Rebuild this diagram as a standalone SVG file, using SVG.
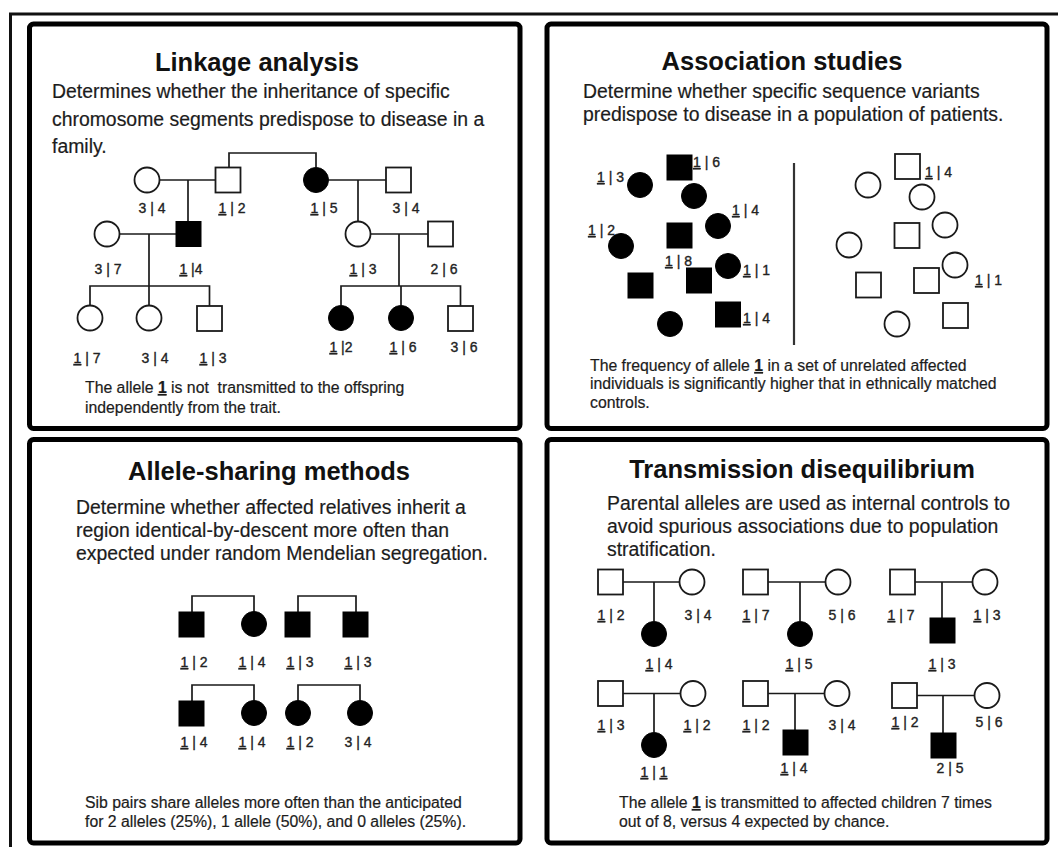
<svg xmlns="http://www.w3.org/2000/svg" xmlns:xlink="http://www.w3.org/1999/xlink" width="1058" height="847" viewBox="0 0 1058 847">
  <style>
    .frame{fill:none;stroke:#111;stroke-width:3}
    .panel{fill:#fff;stroke:#000;stroke-width:5}
    text{font-family:'Liberation Sans',Arial,Helvetica,sans-serif;fill:#111}
    .title{font-size:25.5px;font-weight:bold;text-anchor:middle}
    .desc{font-size:19.4px;fill:#1c1c1c;stroke:#1c1c1c;stroke-width:0.2}
    .note{font-size:15.8px;fill:#1c1c1c;stroke:#1c1c1c;stroke-width:0.2}
    .lbl{font-size:14px;text-anchor:middle;fill:#222;stroke:#222;stroke-width:0.35}
    .lbs{font-size:14px;fill:#222;stroke:#222;stroke-width:0.35}
    .u{text-decoration:underline}
    .b{font-weight:bold}
    .open{fill:#fff;stroke:#1a1a1a;stroke-width:1.8}
    .aff{fill:#000;stroke:#000;stroke-width:1}
    .ln{fill:none;stroke:#1a1a1a;stroke-width:1.7}
    .div{stroke:#333;stroke-width:2.2}
  </style>
  <defs>
    <rect id="sq" width="25" height="25"/>
    <circle id="ci" r="12.5"/>
  </defs>

  <rect width="1058" height="847" fill="#fff"/>
  <!-- outer frame, running off the right and bottom edges -->
  <rect class="frame" x="10.5" y="14" width="1060" height="850"/>

  <!-- ============ Linkage analysis ============ -->
  <g id="linkage">
    <rect class="panel" x="29.5" y="24" width="490.5" height="404.5" rx="4"/>
    <text class="title" x="257" y="71">Linkage analysis</text>
    <text class="desc" x="52" y="98">Determines whether the inheritance of specific</text>
    <text class="desc" x="52" y="126">chromosome segments predispose to disease in a</text>
    <text class="desc" x="52" y="153">family.</text>

    <g id="linkage-connectors">
      <path class="ln" d="M229,167.5 V153 H316 V167"/>
      <path class="ln" d="M159,180 H215.5"/>
      <path class="ln" d="M329,180 H386"/>
      <path class="ln" d="M188,180 V221.5"/>
      <path class="ln" d="M358,180 V222"/>
      <path class="ln" d="M119,234 H176"/>
      <path class="ln" d="M149,234 V286 M90,306 V286 H209.5 V306 M149,286 V306"/>
      <path class="ln" d="M370,234 H428"/>
      <path class="ln" d="M399,234 V286 M341,305 V286 H460.5 V306 M401,286 V305"/>
    </g>

    <g id="lk-i1"><use xlink:href="#ci" class="open" x="147" y="180"/><text class="lbl" x="152" y="213">3 | 4</text></g>
    <g id="lk-i2"><use xlink:href="#sq" class="open" x="215.5" y="167.5"/><text class="lbl" x="232" y="213"><tspan class="u">1</tspan> | 2</text></g>
    <g id="lk-i3"><use xlink:href="#ci" class="aff" x="316" y="180"/><text class="lbl" x="324" y="213"><tspan class="u">1</tspan> | 5</text></g>
    <g id="lk-i4"><use xlink:href="#sq" class="open" x="386" y="167.5"/><text class="lbl" x="406" y="213">3 | 4</text></g>

    <g id="lk-ii1"><use xlink:href="#ci" class="open" x="107" y="234"/><text class="lbl" x="108" y="274">3 | 7</text></g>
    <g id="lk-ii2"><use xlink:href="#sq" class="aff" x="176" y="221.5"/><text class="lbl" x="191" y="274"><tspan class="u">1</tspan> |4</text></g>
    <g id="lk-ii3"><use xlink:href="#ci" class="open" x="358" y="234"/><text class="lbl" x="363" y="274"><tspan class="u">1</tspan> | 3</text></g>
    <g id="lk-ii4"><use xlink:href="#sq" class="open" x="428" y="221.5"/><text class="lbl" x="444" y="274">2 | 6</text></g>

    <g id="lk-iii1"><use xlink:href="#ci" class="open" x="90" y="318"/><text class="lbl" x="87" y="363"><tspan class="u">1</tspan> | 7</text></g>
    <g id="lk-iii2"><use xlink:href="#ci" class="open" x="149" y="318"/><text class="lbl" x="155" y="363">3 | 4</text></g>
    <g id="lk-iii3"><use xlink:href="#sq" class="open" x="197" y="306"/><text class="lbl" x="213" y="363"><tspan class="u">1</tspan> | 3</text></g>
    <g id="lk-iii4"><use xlink:href="#ci" class="aff" x="341" y="318"/><text class="lbl" x="341" y="352"><tspan class="u">1</tspan> |2</text></g>
    <g id="lk-iii5"><use xlink:href="#ci" class="aff" x="401" y="318"/><text class="lbl" x="403" y="352"><tspan class="u">1</tspan> | 6</text></g>
    <g id="lk-iii6"><use xlink:href="#sq" class="open" x="448" y="306"/><text class="lbl" x="464" y="352">3 | 6</text></g>

    <text class="note" x="85" y="393">The allele <tspan class="u b">1</tspan> is not&#160; transmitted to the offspring</text>
    <text class="note" x="85" y="413">independently from the trait.</text>
  </g>

  <!-- ============ Association studies ============ -->
  <g id="association">
    <rect class="panel" x="547" y="24" width="500" height="404.5" rx="4"/>
    <text class="title" x="782" y="70">Association studies</text>
    <text class="desc" x="583" y="98">Determine whether specific sequence variants</text>
    <text class="desc" x="583" y="121">predispose to disease in a population of patients.</text>

    <line class="div" x1="794" y1="163" x2="794" y2="345"/>

    <g id="cases">
      <g id="case1"><use xlink:href="#ci" class="aff" x="640" y="185"/><text class="lbs" x="597" y="182"><tspan class="u">1</tspan> | 3</text></g>
      <g id="case2"><use xlink:href="#sq" class="aff" x="667" y="155"/><text class="lbs" x="693" y="167"><tspan class="u">1</tspan> | 6</text></g>
      <g id="case3"><use xlink:href="#ci" class="aff" x="694" y="196"/></g>
      <g id="case4"><use xlink:href="#ci" class="aff" x="718" y="226"/><text class="lbs" x="732" y="215"><tspan class="u">1</tspan> | 4</text></g>
      <g id="case5"><use xlink:href="#ci" class="aff" x="621" y="246"/><text class="lbs" x="588" y="235"><tspan class="u">1</tspan> | 2</text></g>
      <g id="case6"><use xlink:href="#sq" class="aff" x="667" y="223"/><text class="lbs" x="665" y="266"><tspan class="u">1</tspan> | 8</text></g>
      <g id="case7"><use xlink:href="#ci" class="aff" x="728" y="266"/><text class="lbs" x="743" y="275"><tspan class="u">1</tspan> | 1</text></g>
      <g id="case8"><use xlink:href="#sq" class="aff" x="628" y="273"/></g>
      <g id="case9"><use xlink:href="#sq" class="aff" x="686.5" y="268"/></g>
      <g id="case10"><use xlink:href="#sq" class="aff" x="715.5" y="302"/><text class="lbs" x="743" y="323"><tspan class="u">1</tspan> | 4</text></g>
      <g id="case11"><use xlink:href="#ci" class="aff" x="670" y="324"/></g>
    </g>

    <g id="controls">
      <g id="ctl1"><use xlink:href="#ci" class="open" x="868" y="185"/></g>
      <g id="ctl2"><use xlink:href="#sq" class="open" x="895" y="154"/><text class="lbs" x="925" y="177"><tspan class="u">1</tspan> | 4</text></g>
      <g id="ctl3"><use xlink:href="#ci" class="open" x="922" y="197"/></g>
      <g id="ctl4"><use xlink:href="#ci" class="open" x="945" y="225"/></g>
      <g id="ctl5"><use xlink:href="#sq" class="open" x="894.5" y="223"/></g>
      <g id="ctl6"><use xlink:href="#ci" class="open" x="849" y="245"/></g>
      <g id="ctl7"><use xlink:href="#ci" class="open" x="955" y="265"/><text class="lbs" x="975" y="285"><tspan class="u">1</tspan> | 1</text></g>
      <g id="ctl8"><use xlink:href="#sq" class="open" x="856" y="272.5"/></g>
      <g id="ctl9"><use xlink:href="#sq" class="open" x="914" y="268"/></g>
      <g id="ctl10"><use xlink:href="#sq" class="open" x="943" y="303"/></g>
      <g id="ctl11"><use xlink:href="#ci" class="open" x="897" y="324"/></g>
    </g>

    <text class="note" x="590" y="371">The frequency of allele <tspan class="u b">1</tspan> in a set of unrelated affected</text>
    <text class="note" x="590" y="389">individuals is significantly higher that in ethnically matched</text>
    <text class="note" x="590" y="408">controls.</text>
  </g>

  <!-- ============ Allele-sharing methods ============ -->
  <g id="allele-sharing">
    <rect class="panel" x="29.5" y="439.5" width="490.5" height="403.5" rx="4"/>
    <text class="title" x="269" y="480">Allele-sharing methods</text>
    <text class="desc" x="76" y="514">Determine whether affected relatives inherit a</text>
    <text class="desc" x="76" y="537">region identical-by-descent more often than</text>
    <text class="desc" x="76" y="560">expected under random Mendelian segregation.</text>

    <g id="sib-connectors">
      <path class="ln" d="M192,612 V596 H254 V611.5"/>
      <path class="ln" d="M298,612 V596 H356 V612"/>
      <path class="ln" d="M192,701 V685 H254 V700.5"/>
      <path class="ln" d="M298,700.5 V685 H360 V700.5"/>
    </g>

    <g id="sp1a"><use xlink:href="#sq" class="aff" x="179" y="612"/><text class="lbl" x="194" y="667"><tspan class="u">1</tspan> | 2</text></g>
    <g id="sp1b"><use xlink:href="#ci" class="aff" x="254" y="624"/><text class="lbl" x="252" y="667"><tspan class="u">1</tspan> | 4</text></g>
    <g id="sp2a"><use xlink:href="#sq" class="aff" x="285" y="612"/><text class="lbl" x="300" y="667"><tspan class="u">1</tspan> | 3</text></g>
    <g id="sp2b"><use xlink:href="#sq" class="aff" x="343" y="612"/><text class="lbl" x="358" y="667"><tspan class="u">1</tspan> | 3</text></g>
    <g id="sp3a"><use xlink:href="#sq" class="aff" x="179" y="701"/><text class="lbl" x="194" y="747"><tspan class="u">1</tspan> | 4</text></g>
    <g id="sp3b"><use xlink:href="#ci" class="aff" x="254" y="713"/><text class="lbl" x="252" y="747"><tspan class="u">1</tspan> | 4</text></g>
    <g id="sp4a"><use xlink:href="#ci" class="aff" x="298" y="713"/><text class="lbl" x="300" y="747"><tspan class="u">1</tspan> | 2</text></g>
    <g id="sp4b"><use xlink:href="#ci" class="aff" x="360" y="713"/><text class="lbl" x="358" y="747">3 | 4</text></g>

    <text class="note" x="85" y="808">Sib pairs share alleles more often than the anticipated</text>
    <text class="note" x="85" y="827">for 2 alleles (25%), 1 allele (50%), and 0 alleles (25%).</text>
  </g>

  <!-- ============ Transmission disequilibrium ============ -->
  <g id="tdt">
    <rect class="panel" x="547" y="439.5" width="500" height="403.5" rx="4"/>
    <text class="title" x="802" y="478">Transmission disequilibrium</text>
    <text class="desc" x="607" y="510">Parental alleles are used as internal controls to</text>
    <text class="desc" x="607" y="533">avoid spurious associations due to population</text>
    <text class="desc" x="607" y="556">stratification.</text>

    <g id="trio-connectors">
      <path class="ln" d="M623,582 H679.5 M654,582 V621"/>
      <path class="ln" d="M768,582 H825.5 M800,582 V621"/>
      <path class="ln" d="M915,582 H972.5 M942,582 V618"/>
      <path class="ln" d="M623,693.5 H680.5 M654,693.5 V732"/>
      <path class="ln" d="M768,693.5 H824.5 M795,693.5 V730"/>
      <path class="ln" d="M917,695.5 H974.5 M943,695.5 V733"/>
    </g>

    <g id="t1-f"><use xlink:href="#sq" class="open" x="598" y="569.5"/><text class="lbl" x="611" y="620"><tspan class="u">1</tspan> | 2</text></g>
    <g id="t1-m"><use xlink:href="#ci" class="open" x="692" y="582"/><text class="lbl" x="698" y="620">3 | 4</text></g>
    <g id="t1-c"><use xlink:href="#ci" class="aff" x="654" y="634"/><text class="lbl" x="659" y="669"><tspan class="u">1</tspan> | 4</text></g>

    <g id="t2-f"><use xlink:href="#sq" class="open" x="743" y="569.5"/><text class="lbl" x="756" y="620"><tspan class="u">1</tspan> | 7</text></g>
    <g id="t2-m"><use xlink:href="#ci" class="open" x="838" y="582"/><text class="lbl" x="842" y="620">5 | 6</text></g>
    <g id="t2-c"><use xlink:href="#ci" class="aff" x="800" y="634"/><text class="lbl" x="799" y="669"><tspan class="u">1</tspan> | 5</text></g>

    <g id="t3-f"><use xlink:href="#sq" class="open" x="890" y="569.5"/><text class="lbl" x="901" y="620"><tspan class="u">1</tspan> | 7</text></g>
    <g id="t3-m"><use xlink:href="#ci" class="open" x="985" y="582"/><text class="lbl" x="987" y="620"><tspan class="u">1</tspan> | 3</text></g>
    <g id="t3-c"><use xlink:href="#sq" class="aff" x="930" y="618"/><text class="lbl" x="942" y="669"><tspan class="u">1</tspan> | 3</text></g>

    <g id="t4-f"><use xlink:href="#sq" class="open" x="598" y="681"/><text class="lbl" x="611" y="730"><tspan class="u">1</tspan> | 3</text></g>
    <g id="t4-m"><use xlink:href="#ci" class="open" x="693" y="693.5"/><text class="lbl" x="697" y="730"><tspan class="u">1</tspan> | 2</text></g>
    <g id="t4-c"><use xlink:href="#ci" class="aff" x="654" y="745"/><text class="lbl" x="654" y="777"><tspan class="u">1</tspan> | <tspan class="u">1</tspan></text></g>

    <g id="t5-f"><use xlink:href="#sq" class="open" x="743" y="681"/><text class="lbl" x="756" y="730"><tspan class="u">1</tspan> | 2</text></g>
    <g id="t5-m"><use xlink:href="#ci" class="open" x="837" y="693.5"/><text class="lbl" x="842" y="730">3 | 4</text></g>
    <g id="t5-c"><use xlink:href="#sq" class="aff" x="783" y="730"/><text class="lbl" x="794" y="773"><tspan class="u">1</tspan> | 4</text></g>

    <g id="t6-f"><use xlink:href="#sq" class="open" x="892" y="683"/><text class="lbl" x="905" y="727"><tspan class="u">1</tspan> | 2</text></g>
    <g id="t6-m"><use xlink:href="#ci" class="open" x="987" y="695.5"/><text class="lbl" x="989" y="727">5 | 6</text></g>
    <g id="t6-c"><use xlink:href="#sq" class="aff" x="931" y="733"/><text class="lbl" x="950" y="773">2 | 5</text></g>

    <text class="note" x="619" y="808">The allele <tspan class="u b">1</tspan> is transmitted to affected children 7 times</text>
    <text class="note" x="619" y="827">out of 8, versus 4 expected by chance.</text>
  </g>
</svg>
